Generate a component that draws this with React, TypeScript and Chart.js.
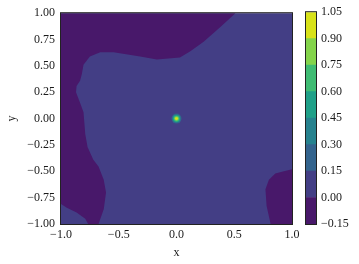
import React, { useEffect, useRef } from 'react';
import { Chart, registerables } from 'chart.js';
Chart.register(...registerables);

// ---- data ----
const xTicks = [-1, -0.5, 0, 0.5, 1];
const yTicks = [-1, -0.75, -0.5, -0.25, 0, 0.25, 0.5, 0.75, 1];
const levels = [-0.15, 0, 0.15, 0.3, 0.45, 0.6, 0.75, 0.9, 1.05];
const bandColors = ['#48186a', '#433e85', '#33638d', '#26828e', '#1fa088', '#3fbc73', '#84d44b', '#d8e219'];

// region below 0 (top / left), traced contour
const regionLeftX = [-1, 0.51, 0.38, 0.235, 0.12, 0.03, -0.17, -0.315, -0.545, -0.66, -0.75, -0.805, -0.82, -0.835, -0.865, -0.87, -0.835, -0.805, -0.79, -0.77, -0.72, -0.675, -0.63, -0.61, -0.63, -0.675, -0.765, -0.79, -0.865, -0.95, -1, -1];
const regionLeftY = [1, 1, 0.87, 0.73, 0.64, 0.58, 0.56, 0.59, 0.63, 0.63, 0.59, 0.51, 0.42, 0.36, 0.31, 0.25, 0.15, 0.06, -0.145, -0.27, -0.39, -0.455, -0.58, -0.7, -0.86, -1, -1, -0.95, -0.89, -0.845, -0.81, 1];
// region below 0 (bottom right)
const regionRightX = [1, 0.815, 0.78, 0.77, 0.8, 0.855, 0.93, 1, 1];
const regionRightY = [-1, -1, -0.83, -0.67, -0.58, -0.52, -0.5, -0.48, -1];
// central peak (bands reached, innermost first)
const peakX = [0];
const peakY = [0];
const peakBands = [7, 6, 5, 4, 3, 2];

// ---- style ----
const peakRadii = [1.4, 2.1, 2.8, 3.4, 4.1, 5];
const FONT = { family: "'Liberation Serif', 'Times New Roman', serif", size: 12 };
const TEXT = '#1a1a1a';
const W = 359, H = 264;

const fmt = (v: number, d: number) => v.toFixed(d).replace('-', '\u2212');

const framePlugin = {
  id: 'frame',
  beforeDraw(chart: any, _a: any, opts: any) {
    if (!opts.bg) return;
    const { ctx, chartArea: a } = chart;
    ctx.save();
    ctx.fillStyle = opts.bg;
    ctx.fillRect(a.left, a.top, a.right - a.left, a.bottom - a.top);
    ctx.restore();
  },
  afterDraw(chart: any) {
    const { ctx, chartArea: a } = chart;
    ctx.save();
    ctx.strokeStyle = '#222';
    ctx.lineWidth = 1;
    ctx.strokeRect(a.left - 0.5, a.top - 0.5, a.right - a.left + 1, a.bottom - a.top + 1);
    ctx.restore();
  },
};

const toPts = (xs: number[], ys: number[]) => xs.map((x, i) => ({ x, y: ys[i] }));

export default function App() {
  const mainRef = useRef<HTMLCanvasElement>(null);
  const cbRef = useRef<HTMLCanvasElement>(null);

  useEffect(() => {
    const peakSets = peakBands.map((b, i) => ({
      data: toPts(peakX, peakY),
      showLine: false,
      pointRadius: peakRadii[i],
      pointBackgroundColor: bandColors[b],
      pointBorderWidth: 0,
      pointHoverRadius: peakRadii[i],
      fill: false,
    }));
    const regionSet = (xs: number[], ys: number[]) => ({
      data: toPts(xs, ys),
      showLine: true,
      borderWidth: 0,
      borderColor: bandColors[0],
      backgroundColor: bandColors[0],
      pointRadius: 0,
      tension: 0,
      fill: 'shape',
    });
    const main = new Chart(mainRef.current!, {
      type: 'line',
      data: {
        datasets: [...peakSets, regionSet(regionLeftX, regionLeftY), regionSet(regionRightX, regionRightY)] as any,
      },
      options: {
        responsive: false,
        animation: false,
        devicePixelRatio: 1,
        events: [],
        layout: { padding: { left: 0, top: 9, right: 67, bottom: 0 } },
        plugins: {
          legend: { display: false },
          tooltip: { enabled: false },
          frame: { bg: bandColors[1] },
        } as any,
        scales: {
          x: {
            type: 'linear',
            min: -1,
            max: 1,
            afterBuildTicks: (s: any) => { s.ticks = xTicks.map((value) => ({ value })); },
            afterFit: (s: any) => { s.height = 40; },
            grid: { display: false, drawTicks: false },
            border: { display: false },
            ticks: { padding: 4, color: TEXT, font: FONT, maxRotation: 0, autoSkip: false, callback: (v: any) => fmt(Number(v), 1) },
            title: { display: true, text: 'x', color: TEXT, font: FONT, padding: { top: 0, bottom: 4 } },
          },
          y: {
            type: 'linear',
            min: -1,
            max: 1,
            afterBuildTicks: (s: any) => { s.ticks = yTicks.map((value) => ({ value })); },
            afterFit: (s: any) => { s.width = 61; },
            grid: { display: false, drawTicks: false },
            border: { display: false },
            ticks: { padding: 6, color: TEXT, font: FONT, autoSkip: false, callback: (v: any) => fmt(Number(v), 2) },
            title: { display: true, text: 'y', color: TEXT, font: FONT, padding: { top: 5, bottom: 0 } },
          },
        },
      } as any,
      plugins: [framePlugin],
    });

    const cb = new Chart(cbRef.current!, {
      type: 'bar',
      data: {
        labels: ['c'],
        datasets: bandColors.map((c, i) => ({
          data: [[levels[i], levels[i + 1]]],
          backgroundColor: c,
          borderWidth: 0,
          grouped: false,
          barPercentage: 1,
          categoryPercentage: 1,
        })) as any,
      },
      options: {
        responsive: false,
        animation: false,
        devicePixelRatio: 1,
        events: [],
        layout: { padding: { left: 306, top: 9, right: 0, bottom: 40 } },
        plugins: { legend: { display: false }, tooltip: { enabled: false } },
        scales: {
          x: { display: false },
          y: {
            position: 'right',
            min: levels[0],
            max: levels[levels.length - 1],
            afterBuildTicks: (s: any) => { s.ticks = levels.map((value) => ({ value })); },
            afterFit: (s: any) => { s.width = 43; },
            grid: { display: false, drawTicks: false },
            border: { display: false },
            ticks: { padding: 5, color: TEXT, font: FONT, autoSkip: false, callback: (v: any) => fmt(Number(v), 2) },
          },
        },
      } as any,
      plugins: [framePlugin],
    });

    return () => { main.destroy(); cb.destroy(); };
  }, []);

  return (
    <div style={{ position: 'fixed', left: 0, top: 0, width: W, height: H, background: '#fff' }}>
      <canvas ref={mainRef} width={W} height={H} style={{ position: 'absolute', left: 0, top: 0 }} />
      <canvas ref={cbRef} width={W} height={H} style={{ position: 'absolute', left: 0, top: 0 }} />
    </div>
  );
}
